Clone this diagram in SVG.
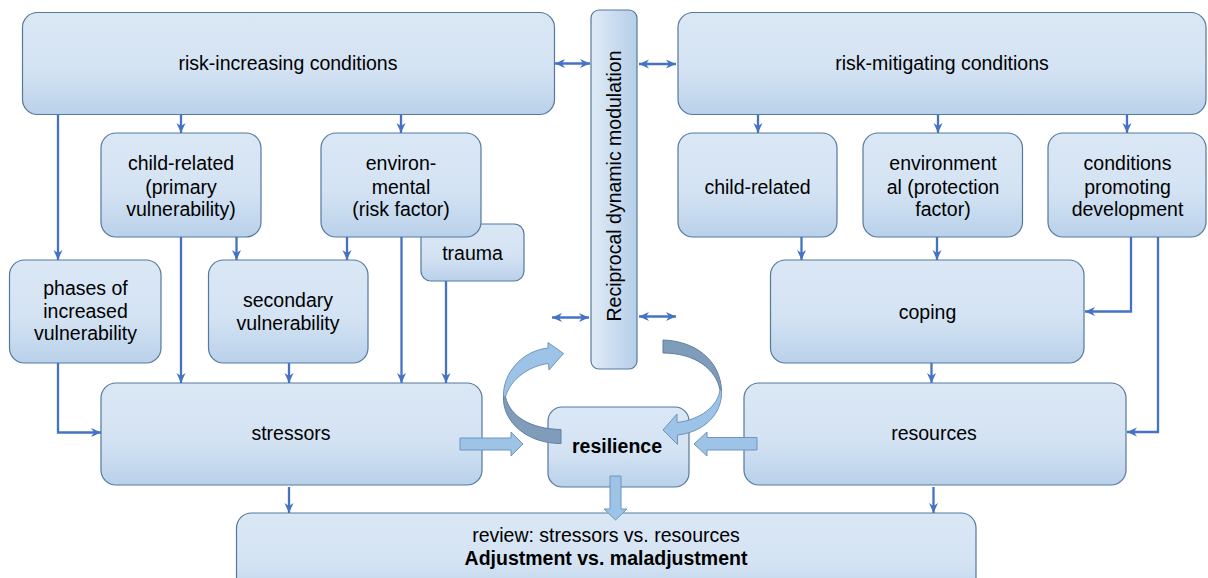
<svg xmlns="http://www.w3.org/2000/svg" width="1208" height="578" viewBox="0 0 1208 578">
<defs>
<linearGradient id="gBox" x1="0" y1="0" x2="0" y2="1">
<stop offset="0" stop-color="#dae7f5"/>
<stop offset="0.55" stop-color="#d4e3f3"/>
<stop offset="1" stop-color="#b9d1ea"/>
</linearGradient>
<linearGradient id="gBar" x1="0" y1="0" x2="1" y2="0">
<stop offset="0" stop-color="#e0ebf7"/>
<stop offset="1" stop-color="#b6cee8"/>
</linearGradient>
<marker id="ah" viewBox="0 0 10 10" refX="10" refY="5" markerWidth="11" markerHeight="10" markerUnits="userSpaceOnUse" orient="auto-start-reverse">
<path d="M0,0.5 L10,5 L0,9.5 L3,5 Z" fill="#4472c4"/>
</marker>
</defs>
<style>
.box{fill:url(#gBox);stroke:#55789f;stroke-width:1.2}
.bar{fill:url(#gBar);stroke:#55789f;stroke-width:1.2}
.t{font-family:"Liberation Sans",Arial,sans-serif;font-size:19.5px;fill:#000;text-anchor:middle}
.b{font-weight:bold}
.c{fill:none;stroke:#4472c4;stroke-width:2.3}
.ca{marker-end:url(#ah)}
.cd{marker-end:url(#ah);marker-start:url(#ah)}
.blk{fill:#9dc3e6;stroke:#6f94bd;stroke-width:1}
.drk{fill:#7f9dbb;stroke:#5f7f9f;stroke-width:1}
</style>

<g id="trauma">
<rect class="box" x="421" y="224" width="103" height="57" rx="10"/>
<text class="t" x="472.5" y="260">trauma</text>
</g>
<g id="risk-increasing">
<rect class="box" x="22.5" y="12.5" width="532" height="102" rx="15"/>
<text class="t" x="288" y="70">risk-increasing conditions</text>
</g>
<g id="modulation">
<rect class="bar" x="591" y="10" width="46" height="359" rx="8"/>
<text class="t" transform="translate(621,186) rotate(-90)" x="0" y="0">Reciprocal dynamic modulation</text>
</g>
<g id="risk-mitigating">
<rect class="box" x="678" y="12.5" width="528" height="102" rx="15"/>
<text class="t" x="942" y="70">risk-mitigating conditions</text>
</g>
<g id="child-related-risk">
<rect class="box" x="101" y="133" width="160" height="104" rx="15"/>
<text class="t" x="181" y="170">child-related</text>
<text class="t" x="181" y="193.5">(primary</text>
<text class="t" x="181" y="216">vulnerability)</text>
</g>
<g id="environmental-risk">
<rect class="box" x="321" y="133" width="160" height="104" rx="15"/>
<text class="t" x="401" y="170">environ-</text>
<text class="t" x="401" y="193.5">mental</text>
<text class="t" x="401" y="216">(risk factor)</text>
</g>
<g id="child-related-mit">
<rect class="box" x="678" y="133" width="159" height="104" rx="15"/>
<text class="t" x="757.5" y="193.5">child-related</text>
</g>
<g id="environmental-mit">
<rect class="box" x="863" y="133" width="159.5" height="104" rx="15"/>
<text class="t" x="943" y="170">environment</text>
<text class="t" x="943" y="193.5">al (protection</text>
<text class="t" x="943" y="216">factor)</text>
</g>
<g id="conditions-promoting">
<rect class="box" x="1048" y="133" width="158" height="104" rx="15"/>
<text class="t" x="1127.5" y="170">conditions</text>
<text class="t" x="1127.5" y="193.5">promoting</text>
<text class="t" x="1127.5" y="216">development</text>
</g>
<g id="phases">
<rect class="box" x="9.5" y="260" width="151.5" height="103" rx="15"/>
<text class="t" x="85.5" y="295">phases of</text>
<text class="t" x="85.5" y="318">increased</text>
<text class="t" x="85.5" y="340">vulnerability</text>
</g>
<g id="secondary">
<rect class="box" x="208.5" y="260" width="159.5" height="103" rx="15"/>
<text class="t" x="288" y="307">secondary</text>
<text class="t" x="288" y="330">vulnerability</text>
</g>
<g id="coping">
<rect class="box" x="770.5" y="260" width="313.5" height="103" rx="15"/>
<text class="t" x="927.5" y="319">coping</text>
</g>
<g id="stressors">
<rect class="box" x="101" y="383" width="381" height="102" rx="15"/>
<text class="t" x="291" y="440">stressors</text>
</g>
<g id="resources">
<rect class="box" x="744" y="383" width="382" height="102" rx="15"/>
<text class="t" x="934" y="440">resources</text>
</g>
<g id="resilience">
<rect class="box" x="548" y="407" width="141" height="80" rx="14"/>
<text class="t b" x="617" y="453">resilience</text>
</g>
<g id="review">
<rect class="box" x="236.5" y="513" width="739.5" height="90" rx="15"/>
<text class="t" x="606" y="542">review: stressors vs. resources</text>
<text class="t b" x="606" y="565">Adjustment vs. maladjustment</text>
</g>

<g id="connectors">
<path class="c ca" d="M58,115 V260"/>
<path class="c ca" d="M181,115 V133"/>
<path class="c ca" d="M401,115 V133"/>
<path class="c ca" d="M181,237 V383"/>
<path class="c ca" d="M236.5,237 V260"/>
<path class="c ca" d="M347,237 V260"/>
<path class="c ca" d="M401.5,237 V383"/>
<path class="c ca" d="M446,281 V383"/>
<path class="c ca" d="M289,363 V383"/>
<path class="c ca" d="M58,363 V432.5 H101"/>
<path class="c ca" d="M289,487 V513"/>
<path class="c ca" d="M758,115 V133"/>
<path class="c ca" d="M938,115 V133"/>
<path class="c ca" d="M1127,115 V133"/>
<path class="c ca" d="M801.5,237 V260"/>
<path class="c ca" d="M937,237 V260"/>
<path class="c ca" d="M1131,237 V311.5 H1085"/>
<path class="c ca" d="M1158,237 V432 H1127"/>
<path class="c ca" d="M931.5,363 V383"/>
<path class="c ca" d="M933.5,487 V513"/>
<path class="c cd" d="M555,63.5 H590"/>
<path class="c cd" d="M639,64 H676"/>
<path class="c cd" d="M552,317.5 H589"/>
<path class="c cd" d="M639,316.5 H676"/>
</g>

<g id="block-arrows">
<path class="blk" d="M460,438 L511,438 L511,432 L523,444 L511,456 L511,450 L460,450 Z"/>
<path class="blk" d="M757,437.5 L707,437.5 L707,432 L694,444 L707,456 L707,450 L757,450 Z"/>
<path class="blk" d="M610,476 L621,476 L621,509 L627,509 L615.5,520 L604,509 L610,509 Z"/>
<path class="drk" d="M503.5,396 C502,421 526,443.5 561,443.5 L561,429.5 C530,429 510,416 505.5,397 Z"/>
<path class="blk" d="M503.5,396 C503,374 521,351 548,348 L548,342.5 L563.5,353.5 L549,370 L548.5,363.5 C528,366 510,380 505.5,397 Z"/>
<path class="drk" d="M663,340 C695,341 720,360 721.5,390 L720,390 C716,369 695,353 663,353 Z"/>
<path class="blk" d="M721.5,390 C723,413 705,432 677.5,435 L677.5,444.5 L663,430 L677,414 L677,422.5 C700,420 718,406 720,390 Z"/>
</g>
</svg>
